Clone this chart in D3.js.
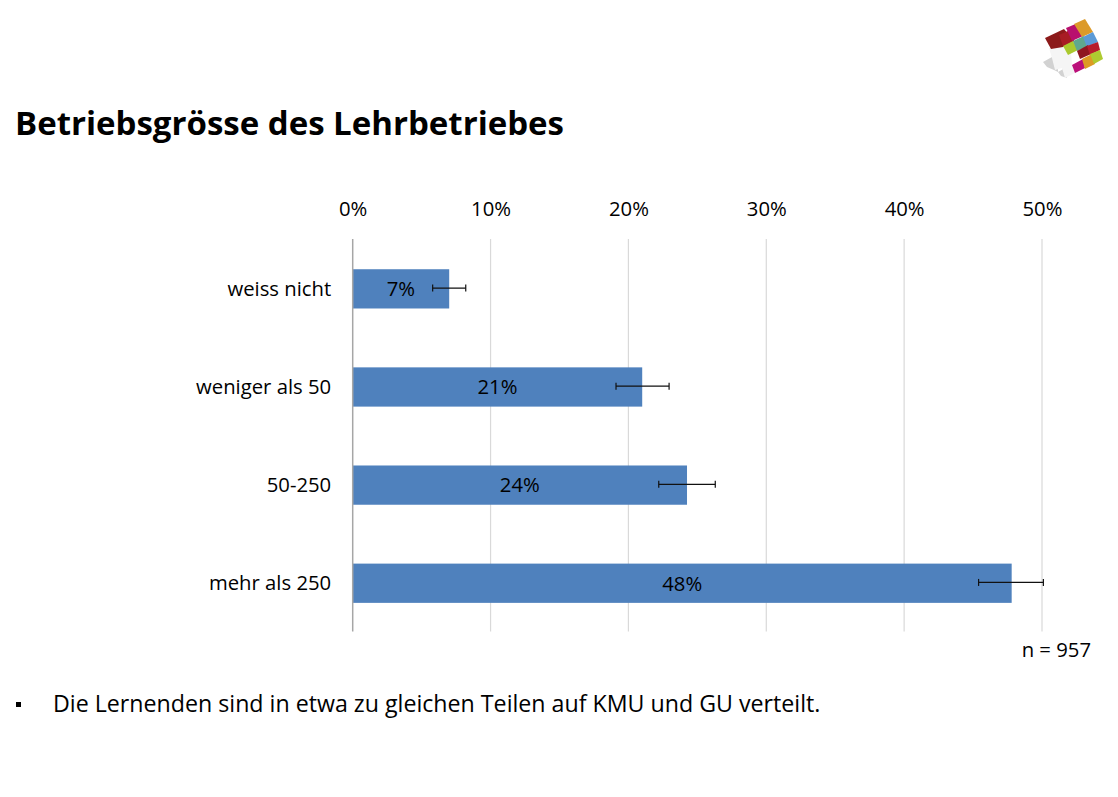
<!DOCTYPE html>
<html><head><meta charset="utf-8">
<script src="https://cdn.jsdelivr.net/npm/d3@7"></script>
<style>
html,body{margin:0;padding:0;background:#fff;overflow:hidden}
svg{display:block}
text{font-family:"Open Sans","Noto Sans",sans-serif;fill:#000}
</style></head><body>
<svg id="c" width="1118" height="797"></svg>
<script>
const categories = ["weiss nicht","weniger als 50","50-250","mehr als 250"];
const values = [7.0,21.0,24.25,47.8];
const dataLabels = ["7%","21%","24%","48%"];
const errLow = [5.8,19.1,22.2,45.4];
const errHigh = [8.2,22.95,26.3,50.1];
const ticks = [0,10,20,30,40,50];
const titleText = "Betriebsgrösse des Lehrbetriebes";
const noteText = "n = 957";
const bulletText = "Die Lernenden sind in etwa zu gleichen Teilen auf KMU und GU verteilt.";

const svg = d3.select("#c");
const x = d3.scaleLinear().domain([0,50]).range([352.7,1042]);
const y = d3.scaleBand().domain(categories).range([239.8,632.3]).paddingInner(0.6).paddingOuter(0.3);
const axisY = [239,631.5];
const labelSize = 20.3;

// logo (decoration)
const logoPolys = [
 ["#d2d2d2","1043,62 1052,57 1058,60 1058,72 1065,68 1067,78 1061,76 1058,72 1054,70 1047,67"],
 ["#f5f5f5","1049,48 1063,46 1071,53 1072,65 1075,73 1065,78 1062,68 1055,70 1052,58"],
 ["#8c1a1a","1045,38 1064,29 1074,41 1063,47 1051,49"],
 ["#a81c24","1059,35 1070,30 1074,41 1063,46"],
 ["#b8106e","1066,28 1078,23 1083,36 1072,41"],
 ["#dc9a2a","1074,24 1085,19 1093,32 1082,37"],
 ["#aac92e","1063,46 1073,41 1078,50 1068,55"],
 ["#5fa88e","1073,41 1084,36 1088,46 1077,51"],
 ["#5b9ad6","1083,37 1093,32 1098,42 1087,47"],
 ["#8f1620","1077,51 1088,45 1091,54 1080,59"],
 ["#b71c2c","1087,46 1098,42 1100,50 1090,55"],
 ["#bb107a","1072,65 1083,59 1085,68 1075,73"],
 ["#dd9a24","1082,59 1092,54 1095,64 1085,69"],
 ["#aeca30","1090,54 1100,50 1103,59 1094,64"]
];
svg.append("g").selectAll("polygon").data(logoPolys).join("polygon")
  .attr("fill",d=>d[0]).attr("points",d=>d[1]);

// title
svg.append("text").attr("x",15).attr("y",135).attr("font-size",33).attr("font-weight",700)
  .text(titleText);

// gridlines
svg.append("g").selectAll("line").data(ticks.slice(1)).join("line")
  .attr("x1",d=>x(d)).attr("x2",d=>x(d)).attr("y1",axisY[0]).attr("y2",axisY[1])
  .attr("stroke","#d9d9d9").attr("stroke-width",1.2);

// top axis
const axisTop = svg.append("g").attr("transform","translate(0,239)")
  .call(d3.axisTop(x).tickValues(ticks).tickFormat(d=>d+"%").tickSize(0).tickPadding(23.5));
axisTop.select(".domain").remove();
axisTop.attr("font-family",null).attr("font-size",null);
axisTop.selectAll("text").attr("font-size",labelSize).attr("dy",0);

// bars
svg.append("g").selectAll("rect").data(categories).join("rect")
  .attr("x",x(0)).attr("y",d=>y(d)).attr("height",y.bandwidth())
  .attr("width",(d,i)=>x(values[i])-x(0)).attr("fill","#4f81bd");

// category axis
const axisLeft = svg.append("g").attr("transform",`translate(${x(0)},0)`)
  .call(d3.axisLeft(y).tickSize(0).tickPadding(21.5));
axisLeft.attr("font-family",null).attr("font-size",null);
axisLeft.select(".domain").remove();
axisLeft.selectAll("text").attr("font-size",labelSize).attr("dy","0.33em");
svg.append("line").attr("x1",x(0)).attr("x2",x(0)).attr("y1",axisY[0]).attr("y2",axisY[1])
  .attr("stroke","#a6a6a6").attr("stroke-width",1.5);

// error bars
const errs = svg.append("g").selectAll("g").data(categories).join("g")
  .attr("transform",d=>`translate(0,${y(d)+y.bandwidth()/2-0.8})`);
errs.append("line").attr("x1",(d,i)=>x(errLow[i])).attr("x2",(d,i)=>x(errHigh[i]))
  .attr("stroke","#111").attr("stroke-width",1.2);
[errLow,errHigh].forEach(a=>errs.append("line")
  .attr("x1",(d,i)=>x(a[i])).attr("x2",(d,i)=>x(a[i])).attr("y1",-3.5).attr("y2",3.5)
  .attr("stroke","#111").attr("stroke-width",1.2));

// data labels
svg.append("g").selectAll("text").data(categories).join("text")
  .attr("x",(d,i)=>(x(0)+x(values[i]))/2).attr("y",d=>y(d)+y.bandwidth()/2)
  .attr("dy","0.36em").attr("text-anchor","middle").attr("font-size",labelSize)
  .text((d,i)=>dataLabels[i]);

// note
svg.append("text").attr("x",1091).attr("y",657).attr("text-anchor","end").attr("font-size",labelSize).text(noteText);

// bullet
svg.append("rect").attr("x",16).attr("y",702).attr("width",5).attr("height",5).attr("fill","#000");
svg.append("text").attr("x",53).attr("y",711.5).attr("font-size",23.2).text(bulletText);
</script></body></html>
